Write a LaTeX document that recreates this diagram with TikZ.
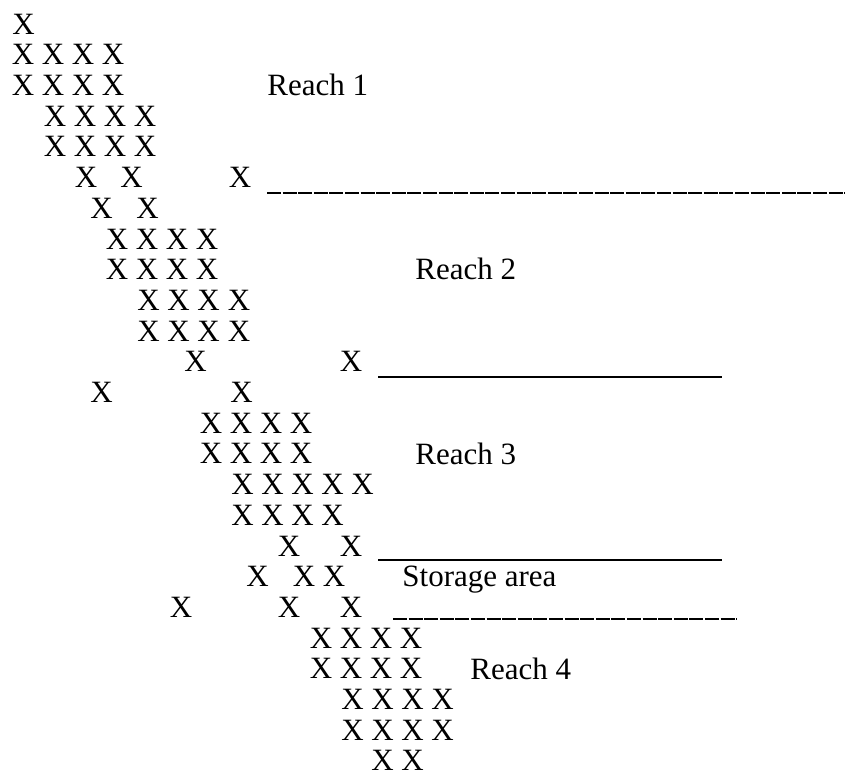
\documentclass[tikz,border=0pt]{standalone}
\usepackage{fontspec}
\setmainfont{Liberation Serif}
\usetikzlibrary{positioning}
\tikzset{
  xmark/.style={inner sep=0pt, outer sep=0pt, anchor=center,
                font=\fontsize{15.5}{18}\selectfont},
  reachLabel/.style={inner sep=0pt, anchor=base west,
                     font=\fontsize{15.5}{18}\selectfont},
  reachLine/.style={line width=0.9pt, black},
  reachDash/.style={line width=0.9pt, black, dash pattern=on 7pt off 0.8pt},
}

\begin{document}
\begin{tikzpicture}[x=0.5pt, y=-0.5pt]
    \useasboundingbox (0,0) rectangle (850,776);
    % rows of X marks, one entry per text line
    \foreach \r/\xs in {1/{23.5}, 2/{23,53,83,113}, 3/{23,53,83,113},
        4/{55,85,115,145}, 5/{55,85,115,145}, 6/{86,131.5,240},
        7/{101.5,147.5}, 8/{117,147,177,207}, 9/{117,147,177,207},
        10/{148.5,178.5,208.5,239}, 11/{148.5,178.5,208.5,239},
        12/{195.5,351}, 13/{101.5,241.5}, 14/{211,241,271,301},
        15/{211,241,271,301}, 16/{242.5,272.5,302.5,332.5,362.5},
        17/{242.5,272.5,302.5,332.5}, 18/{289,351}, 19/{257.5,304,334},
        20/{181,289,351}, 21/{321,351,381,411}, 22/{321,351,381,411},
        23/{352.5,382.5,412.5,442.5}, 24/{352.5,382.5,412.5,442.5},
        25/{382.5,412.5}}{
      \foreach \x [count=\c] in \xs
        \node[xmark] (x\r-\c) at (\x, {24+(\r-1)*30.7}) {X};
    }
    \node[reachLabel] (r1) at (267, {34.3+2*30.7}) {Reach 1};
    \node[reachLabel] (r2) at (415, {34.3+8*30.7}) {Reach 2};
    \node[reachLabel] (r3) at (415, {34.3+14*30.7}) {Reach 3};
    \node[reachLabel] (st) at (402, {34.3+18*30.7}) {Storage area};
    \node[reachLabel] (r4) at (470, {34.3+21*30.7}) {Reach 4};
    \draw[reachDash] (267,193) -- (845,193);
    \draw[reachLine] (378,377) -- (722,377);
    \draw[reachLine] (378,560) -- (722,560);
    \draw[reachDash] (393,619) -- (737,619);
  \end{tikzpicture}
\end{document}
